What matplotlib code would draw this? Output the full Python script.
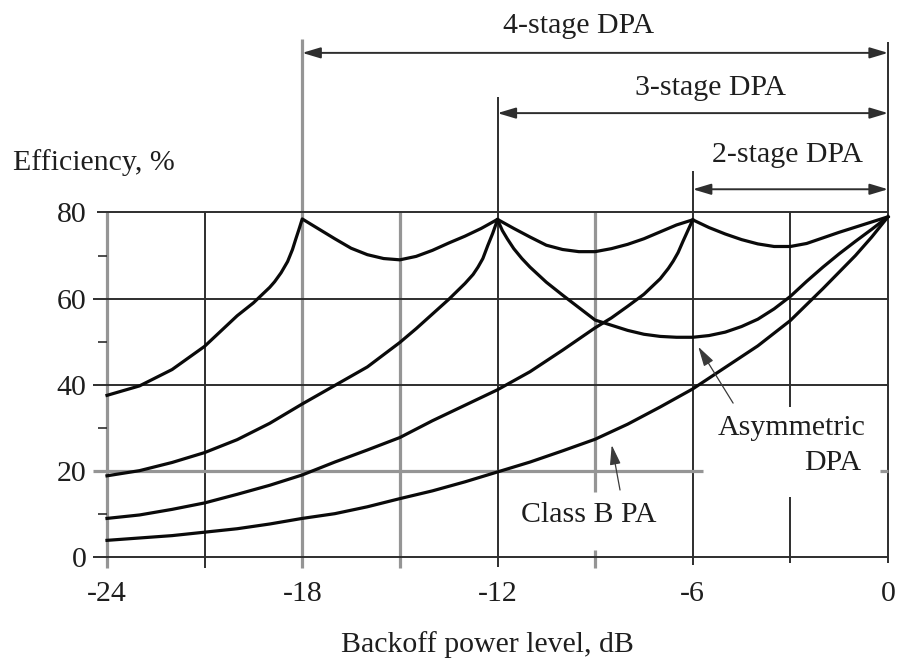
import matplotlib
matplotlib.use("Agg")
import matplotlib.pyplot as plt

plt.rcParams['font.family'] = ['Liberation Serif', 'DejaVu Serif']

# ---- Efficiency (%) versus output power backoff (dB) ----
classb_backoff = [-24, -22, -21, -20, -19, -18, -17, -16, -15, -14, -13, -12,
                  -11, -10, -9, -8, -7, -6, -5, -4, -3, -2, -1, -0.5, 0]
classb_eff = [3.8, 4.9, 5.7, 6.5, 7.6, 8.9, 10.0, 11.6, 13.5, 15.3, 17.4, 19.7,
              22.0, 24.6, 27.3, 30.8, 34.8, 39.0, 44.0, 49.0, 54.9, 62.3, 70.0, 74.3, 79.0]

# two-stage symmetric DPA: rising branch up to its -6 dB peak
dpa2_backoff = [-24, -23, -22, -21, -20, -19, -18, -17, -16, -15, -14, -13, -12,
                -11, -10, -9, -8.5, -8, -7.5, -7, -6.75, -6.6, -6.45, -6.3, -6.15, -6]
dpa2_eff = [8.9, 9.7, 11.0, 12.5, 14.5, 16.6, 19.0, 22.0, 24.8, 27.7, 31.6, 35.2, 38.8,
            43.0, 48.0, 53.2, 55.5, 58.2, 61.0, 64.6, 67.0, 68.7, 70.7, 73.3, 75.8, 78.3]

# three-stage DPA: rising branch up to its -12 dB peak
dpa3_backoff = [-24, -23, -22, -21, -20, -19, -18, -17, -16, -15, -14.5, -14,
                -13.5, -13, -12.75, -12.6, -12.45, -12.3, -12.15, -12]
dpa3_eff = [18.8, 20.0, 21.9, 24.2, 27.2, 31.0, 35.5, 39.8, 44.1, 49.8, 53.0, 56.4,
            59.8, 63.5, 65.6, 67.3, 69.3, 72.3, 75.1, 78.3]

# four-stage DPA over the full range (the -12..0 dB part is shared by the
# three-stage design and the -6..0 dB part by the two-stage design)
dpa4_backoff = [-24, -23, -22, -21, -20, -19.5, -19, -18.85, -18.65, -18.45, -18.3,
                -18.2, -18.1, -18,
                -17.5, -17, -16.5, -16, -15.5, -15, -14.5, -14, -13.5, -13, -12.5, -12,
                -11.5, -11, -10.5, -10, -9.5, -9, -8.5, -8, -7.5, -7, -6.5, -6,
                -5.5, -5, -4.5, -4, -3.5, -3, -2.5, -2, -1.5, -1, -0.5, 0]
dpa4_eff = [37.5, 39.7, 43.5, 48.9, 56.0, 59.0, 62.6, 63.9, 66.0, 68.6, 71.4,
            73.8, 76.1, 78.5,
            76.2, 73.9, 71.7, 70.2, 69.3, 69.0, 69.8, 71.2, 72.9, 74.5, 76.3, 78.4,
            76.3, 74.3, 72.4, 71.4, 70.9, 70.9, 71.6, 72.6, 73.9, 75.5, 77.1, 78.3,
            76.5, 75.0, 73.7, 72.7, 72.1, 72.1, 72.8, 74.1, 75.4, 76.6, 77.8, 79.0]

# asymmetric DPA: from the -12 dB peak down to its trough and back to full power
asym_backoff = [-12, -11.85, -11.7, -11.5, -11.25, -11, -10.5, -10, -9.5, -9, -8.5,
                -8, -7.5, -7, -6.5, -6, -5.5, -5, -4.5, -4, -3.5, -3, -2.5, -2,
                -1.5, -1, -0.5, 0]
asym_eff = [78.3, 75.8, 73.9, 71.6, 69.3, 67.3, 63.8, 60.8, 57.9, 55.0, 53.8,
            52.6, 51.7, 51.2, 51.0, 51.0, 51.4, 52.2, 53.5, 55.2, 57.6, 60.5, 64.0, 67.3,
            70.4, 73.3, 76.1, 79.0]

xtick_vals = [-24, -18, -12, -6, 0]
xtick_text = ['-24', '-18', '-12', '-6', '0']
ytick_vals = [0, 20, 40, 60, 80]
ytick_text = ['0', '20', '40', '60', '80']

# ---- figure and axes ----
W, H = 897, 658
L, R, B, T = 107, 888, 556.7, 212.5
fig = plt.figure(figsize=(W / 100, H / 100), dpi=100)
ax = fig.add_axes([L / W, 1 - B / H, (R - L) / W, (B - T) / H])
ax.set_xlim(-24, 0)
ax.set_ylim(0, 80)
for s in ax.spines.values():
    s.set_visible(False)

TXT = '#1e1e1e'
FS = 21.5
GRAY = '#959595'
DARK = '#2e2e2e'
CURVE = '#0a0a0a'

ax.set_xticks(xtick_vals, xtick_text)
ax.set_yticks(ytick_vals, ytick_text)
ax.tick_params(axis='x', length=0, pad=17.5, labelsize=FS, labelcolor=TXT)
ax.tick_params(axis='y', length=0, pad=14.6, labelsize=FS, labelcolor=TXT)


def seg(xs, ys, color, lw):
    ax.plot(xs, ys, color=color, lw=lw, solid_capstyle='butt',
            clip_on=False, zorder=1)


# vertical grid lines (some run up into the range brackets, some are broken by labels)
vgrid = [
    (-24, GRAY, [(-2.6, 80)]),
    (-21, DARK, [(-2.6, 80)]),
    (-18, GRAY, [(-2.6, 120.3)]),
    (-15, GRAY, [(-2.6, 80)]),
    (-12, DARK, [(-2.4, 106.9)]),
    (-9, GRAY, [(-2.6, 1.6), (15.1, 80)]),
    (-6, DARK, [(-2.0, 89.6)]),
    (-3, DARK, [(-1.5, 13.9), (34.9, 80)]),
    (0, DARK, [(-1.5, 119.6)]),
]
for xv, col, parts in vgrid:
    for y0, y1 in parts:
        seg([xv, xv], [y0, y1], col, 2.3 if col == GRAY else 1.4)

# horizontal grid lines
hgrid = [
    (80, DARK, [(-24.32, 0)]),
    (60, DARK, [(-24.43, 0)]),
    (40, DARK, [(-24.43, 0)]),
    (20, GRAY, [(-24.43, -5.68), (-0.25, 0)]),
    (0, DARK, [(-24.43, 0)]),
]
for yv, col, parts in hgrid:
    for x0, x1 in parts:
        seg([x0, x1], [yv, yv], col, 2.3 if col == GRAY else 1.4)

# minor ticks on the efficiency axis
for yv in [10, 30, 50, 70]:
    seg([-24.28, -24], [yv, yv], DARK, 1.2)

# ---- efficiency curves ----
curve_kw = dict(color=CURVE, lw=2.3, zorder=3, solid_joinstyle='round', clip_on=False)
ax.plot(classb_backoff, classb_eff, **curve_kw)
ax.plot(dpa2_backoff, dpa2_eff, **curve_kw)
ax.plot(dpa3_backoff, dpa3_eff, **curve_kw)
ax.plot(dpa4_backoff, dpa4_eff, **curve_kw)
ax.plot(asym_backoff, asym_eff, **curve_kw)

# ---- range brackets for the multistage DPAs ----
brackets = [
    (-18, 117.1, '4-stage DPA', -9.52, 121.65),
    (-12, 103.1, '3-stage DPA', -5.44, 107.3),
    (-6, 85.4, '2-stage DPA', -3.09, 91.8),
]
for x0, ya, label, xt, yt in brackets:
    ax.annotate('', xy=(x0, ya), xytext=(0, ya), annotation_clip=False,
                arrowprops=dict(arrowstyle='<|-|>,head_length=1.1,head_width=0.33',
                                color=DARK, lw=1.4, shrinkA=0, shrinkB=0))
    ax.text(xt, yt, label, ha='center', va='baseline', fontsize=FS, color=TXT,
            clip_on=False)

# ---- curve labels with pointers ----
ax.annotate('', xy=(-8.49, 25.96), xytext=(-8.235, 15.5), annotation_clip=False,
            arrowprops=dict(arrowstyle='-|>,head_length=1.2,head_width=0.33',
                            color='#3a3a3a', lw=0.9, shrinkA=0, shrinkB=0))
ax.text(-9.21, 8.13, 'Class B PA', ha='center', va='baseline', fontsize=FS, color=TXT)

ax.annotate('', xy=(-5.83, 48.8), xytext=(-4.76, 35.7), annotation_clip=False,
            arrowprops=dict(arrowstyle='-|>,head_length=1.2,head_width=0.33',
                            color='#3a3a3a', lw=0.9, shrinkA=0, shrinkB=0))
ax.text(-0.70, 28.3, 'Asymmetric', ha='right', va='baseline', fontsize=FS, color=TXT)
ax.text(-0.81, 20.15, 'DPA', ha='right', va='baseline', fontsize=FS, color=TXT)

# ---- axis titles ----
fig.text(13 / W, 1 - 170 / H, 'Efficiency, %', ha='left', va='baseline',
         fontsize=FS, color=TXT)
fig.text(487.5 / W, 1 - 651.7 / H, 'Backoff power level, dB', ha='center',
         va='baseline', fontsize=FS, color=TXT)

fig.savefig('out.png', dpi=100, facecolor='white')
